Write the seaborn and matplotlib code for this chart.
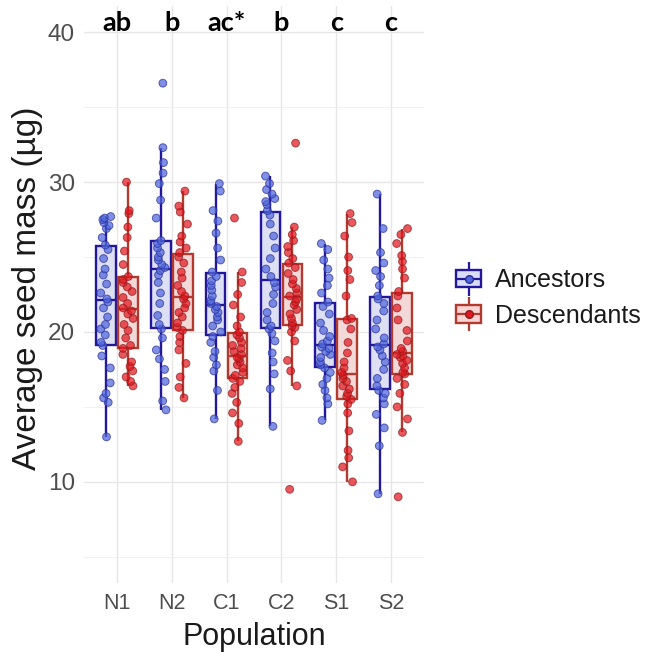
import numpy as np
import pandas as pd
import matplotlib
matplotlib.use('Agg')
import matplotlib.pyplot as plt
from matplotlib.patches import Patch
from matplotlib.lines import Line2D
from matplotlib.legend_handler import HandlerTuple
import seaborn as sns

# ---- data (µg) ----
populations = ['N1', 'N2', 'C1', 'C2', 'S1', 'S2']
groups = ['Ancestors', 'Descendants']
letters = ['ab', 'b', 'ac*', 'b', 'c', 'c']

anc_N1 = [13.0, 15.3, 15.6, 15.9, 16.6, 17.6, 18.4, 19.1, 19.3, 19.8, 20.2, 20.5, 21.0, 21.6, 22.0,
          22.2, 22.6, 23.2, 23.8, 24.2, 24.9, 25.5, 25.8, 26.3, 26.9, 27.1, 27.3, 27.5, 27.6, 27.7]
des_N1 = [16.4, 16.7, 17.0, 17.4, 17.7, 18.0, 18.5, 18.9, 19.1, 19.6, 20.1, 20.5, 20.9, 21.2, 21.4,
          21.6, 21.9, 22.3, 22.7, 23.0, 23.3, 23.5, 23.7, 24.5, 25.4, 26.3, 27.0, 27.9, 28.1, 30.0]
anc_N2 = [14.8, 15.4, 16.7, 17.5, 18.2, 18.8, 19.6, 20.2, 20.5, 21.1, 21.9, 22.6, 23.3, 23.8, 24.1,
          24.3, 24.5, 24.8, 25.0, 25.3, 25.6, 25.9, 26.1, 27.6, 28.8, 29.9, 30.6, 31.3, 32.3, 36.6]
des_N2 = [15.6, 16.3, 17.0, 17.9, 18.8, 19.3, 19.7, 20.1, 20.3, 20.6, 21.0, 21.3, 21.6, 21.9, 22.2,
          22.4, 22.7, 23.1, 23.6, 24.0, 24.6, 25.0, 25.3, 25.6, 26.0, 26.4, 27.2, 28.0, 28.4, 29.4]
anc_C1 = [14.2, 16.1, 17.4, 17.8, 18.3, 18.7, 19.3, 19.7, 20.0, 20.4, 20.8, 21.0, 21.3, 21.5, 21.7,
          21.9, 22.1, 22.4, 22.8, 23.1, 23.4, 23.7, 24.0, 24.8, 25.6, 26.6, 27.4, 28.1, 29.4, 29.9]
des_C1 = [12.7, 13.9, 14.6, 15.3, 15.9, 16.3, 16.7, 16.9, 17.1, 17.3, 17.6, 17.8, 18.0, 18.2, 18.3,
          18.5, 18.7, 18.9, 19.1, 19.3, 19.6, 19.8, 20.0, 20.4, 21.0, 21.8, 22.5, 23.3, 24.0, 27.6]
anc_C2 = [13.7, 16.2, 17.2, 18.0, 18.6, 19.4, 19.9, 20.2, 20.4, 20.8, 21.3, 21.9, 22.5, 23.0, 23.3,
          23.7, 24.2, 24.9, 25.6, 26.4, 27.2, 27.8, 28.1, 28.5, 28.7, 28.9, 29.2, 29.5, 29.9, 30.4]
des_C2 = [9.5, 16.4, 17.4, 18.1, 19.4, 20.0, 20.3, 20.4, 20.6, 20.9, 21.2, 21.5, 21.8, 22.0, 22.2,
          22.4, 22.6, 22.9, 23.2, 23.5, 23.9, 24.3, 24.6, 24.9, 25.3, 25.7, 26.1, 26.5, 27.0, 32.6]
anc_S1 = [14.1, 15.2, 15.6, 16.1, 16.5, 16.9, 17.3, 17.6, 17.8, 18.0, 18.3, 18.5, 18.7, 18.9, 19.0,
          19.2, 19.4, 19.7, 20.1, 20.6, 21.2, 21.7, 22.0, 22.6, 23.1, 23.6, 24.2, 24.8, 25.5, 25.9]
des_S1 = [10.0, 11.0, 11.6, 12.1, 13.4, 14.6, 15.2, 15.5, 15.7, 15.9, 16.2, 16.4, 16.7, 16.9, 17.1,
          17.3, 17.6, 18.0, 18.6, 19.3, 20.2, 20.8, 20.9, 22.4, 23.5, 24.1, 25.0, 26.4, 27.3, 27.9]
anc_S2 = [9.2, 12.4, 13.6, 14.5, 15.2, 15.6, 15.9, 16.1, 16.4, 16.9, 17.5, 18.0, 18.4, 18.8, 19.0,
          19.2, 19.6, 20.2, 20.8, 21.4, 21.9, 22.2, 22.4, 23.1, 23.7, 24.1, 24.6, 25.3, 26.9, 29.2]
des_S2 = [9.0, 13.3, 14.2, 15.0, 15.9, 16.5, 16.9, 17.2, 17.3, 17.6, 17.9, 18.1, 18.3, 18.4, 18.5,
          18.7, 18.9, 19.4, 20.1, 20.8, 21.6, 22.4, 22.7, 23.6, 24.2, 24.7, 25.1, 25.9, 26.5, 26.9]

ancestors = [anc_N1, anc_N2, anc_C1, anc_C2, anc_S1, anc_S2]
descendants = [des_N1, des_N2, des_C1, des_C2, des_S1, des_S2]

rows = []
for pop, a, d in zip(populations, ancestors, descendants):
    rows += [(pop, 'Ancestors', v) for v in a]
    rows += [(pop, 'Descendants', v) for v in d]
df = pd.DataFrame(rows, columns=['Population', 'Group', 'mass'])

# colours
box_fill = {'Ancestors': '#d9ddf7', 'Descendants': '#f8d3d3'}
box_edge = {'Ancestors': '#23189c', 'Descendants': '#b23a2e'}
pt_fill = {'Ancestors': '#4f66dc', 'Descendants': '#e3171f'}
pt_edge = {'Ancestors': '#2a2f9a', 'Descendants': '#8e1a1a'}

sns.set_theme(style='white')
plt.rcParams['font.family'] = ['Liberation Sans', 'DejaVu Sans']

fig = plt.figure(figsize=(6.47, 6.52), dpi=100)
ax = fig.add_axes([84 / 647, 69 / 652, 340 / 647, 577 / 652])

np.random.seed(3)
for g in groups:
    sub = df[df['Group'] == g]
    sns.boxplot(data=sub, x='Population', y='mass', hue='Group',
                order=populations, hue_order=groups, palette=box_fill,
                linecolor=box_edge[g], linewidth=1.7, width=0.8, gap=0.1,
                showfliers=False, dodge=True, legend=False,
                capprops={'linewidth': 0}, ax=ax)
for g in groups:
    sub = df[df['Group'] == g]
    sns.stripplot(data=sub, x='Population', y='mass', hue='Group',
                  order=populations, hue_order=groups, palette=pt_fill,
                  dodge=True, jitter=0.2, size=5.6, alpha=0.72,
                  edgecolor=pt_edge[g], linewidth=0.7, legend=False, ax=ax)

# significance letters
for i, lab in enumerate(letters):
    ax.text(i, 40.1, lab, ha='center', va='baseline', fontsize=19.5,
            fontweight='bold', family=['Lato', 'DejaVu Sans'], color='black')

# ggplot theme_minimal look
ax.set_xlim(-0.6, 5.6)
ax.set_ylim(3.25, 41.75)
ax.set_yticks([10, 20, 30, 40])
ax.set_yticks([5, 15, 25, 35], minor=True)
ax.grid(True, which='major', color='#e6e6e6', linewidth=1.0)
ax.grid(True, which='minor', axis='y', color='#eeeeee', linewidth=0.6)
ax.set_axisbelow(True)
for s in ax.spines.values():
    s.set_visible(False)
ax.tick_params(axis='both', which='both', length=0, labelcolor='#4d4d4d')
ax.tick_params(axis='x', pad=7, labelsize=15.5)
ax.tick_params(axis='y', pad=6.5, labelsize=17.5)

ax.set_xlabel('Population', fontsize=22, color='#1a1a1a', va='baseline')
ax.xaxis.set_label_coords(0.5, -0.1075)
ax.set_ylabel('Average seed mass (µg)', fontsize=24, color='#1a1a1a', va='center')
ax.yaxis.set_label_coords(-0.165, 0.51)

# legend with boxplot-like keys
handles = []
for g in groups:
    whisk = Line2D([], [], marker='|', markersize=24, markeredgewidth=1.6,
                   color=box_edge[g], linestyle='none')
    box = Patch(facecolor=box_fill[g], edgecolor=box_edge[g], linewidth=1.7)
    med = Line2D([], [], marker='_', markersize=18, markeredgewidth=1.6,
                 color=box_edge[g], linestyle='none')
    dot = Line2D([], [], marker='o', markersize=5.5, color=pt_fill[g],
                 markeredgecolor=pt_edge[g], linestyle='none')
    handles.append((whisk, box, med, dot))

leg = fig.legend(handles, groups, handler_map={tuple: HandlerTuple(ndivide=1, pad=0)},
                 loc='center left', bbox_to_anchor=(456 / 647, (652 - 298) / 652),
                 frameon=False, fontsize=18, handlelength=1.0, handleheight=0.7,
                 handletextpad=0.55, labelspacing=0.45, numpoints=1,
                 borderaxespad=0, borderpad=0)
for t in leg.get_texts():
    t.set_color('#1a1a1a')

fig.savefig('out.png', dpi=100, facecolor='white')
